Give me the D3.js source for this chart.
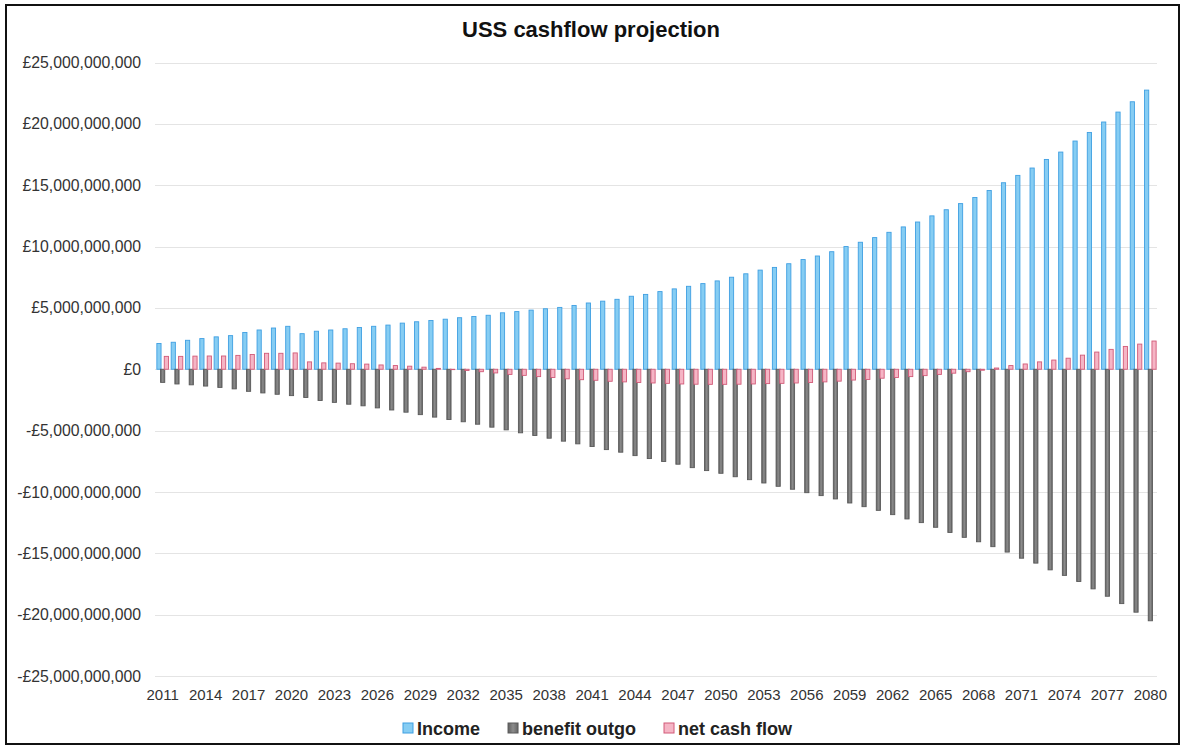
<!DOCTYPE html>
<html>
<head>
<meta charset="utf-8">
<style>
  body { margin: 0; background: #fff; }
  text { font-family: "Liberation Sans", Arial, sans-serif; }
</style>
</head>
<body>
<svg width="1182" height="749"></svg>
<script src="https://d3js.org/d3.v7.min.js"></script>
<script>
// values in £ billions, one per year 2011..2080
const years = d3.range(2011, 2081);
const income = [
  2.1, 2.2, 2.36, 2.5, 2.64, 2.74, 3.0, 3.2, 3.36, 3.5,
  2.9, 3.1, 3.2, 3.3, 3.4, 3.5, 3.6, 3.76, 3.87, 3.97,
  4.08, 4.2, 4.3, 4.4, 4.6, 4.7, 4.82, 4.93, 5.04, 5.2,
  5.4, 5.55, 5.7, 5.95, 6.1, 6.33, 6.55, 6.76, 6.98, 7.2,
  7.5, 7.78, 8.08, 8.3, 8.6, 8.94, 9.23, 9.58, 10.0, 10.35,
  10.73, 11.16, 11.6, 12.0, 12.5, 13.0, 13.5, 14.0, 14.57, 15.2,
  15.8, 16.4, 17.1, 17.7, 18.6, 19.3, 20.15, 20.96, 21.8, 22.75
];
const outgo = [
  -1.07, -1.2, -1.27, -1.37, -1.48, -1.6, -1.8, -1.93, -2.04, -2.15,
  -2.3, -2.55, -2.7, -2.85, -2.98, -3.15, -3.32, -3.5, -3.7, -3.9,
  -4.1, -4.28, -4.48, -4.72, -4.94, -5.18, -5.4, -5.62, -5.86, -6.08,
  -6.3, -6.55, -6.76, -7.04, -7.28, -7.52, -7.74, -8.02, -8.26, -8.48,
  -8.76, -9.0, -9.27, -9.54, -9.78, -10.06, -10.3, -10.57, -10.9, -11.2,
  -11.5, -11.85, -12.2, -12.5, -12.88, -13.3, -13.7, -14.06, -14.46, -14.9,
  -15.4, -15.8, -16.35, -16.8, -17.3, -17.9, -18.5, -19.1, -19.8, -20.5
];
const net = [
  1.05, 1.05, 1.07, 1.08, 1.08, 1.13, 1.2, 1.3, 1.3, 1.33,
  0.6, 0.52, 0.5, 0.45, 0.42, 0.35, 0.3, 0.25, 0.17, 0.07,
  -0.03, -0.1, -0.2, -0.3, -0.42, -0.5, -0.6, -0.67, -0.78, -0.85,
  -0.9, -0.98, -1.03, -1.08, -1.12, -1.15, -1.2, -1.22, -1.23, -1.23,
  -1.22, -1.2, -1.17, -1.15, -1.12, -1.08, -1.03, -0.97, -0.88, -0.83,
  -0.73, -0.67, -0.6, -0.52, -0.42, -0.32, -0.2, -0.08, 0.1, 0.3,
  0.43, 0.6, 0.75, 0.9, 1.15, 1.4, 1.62, 1.86, 2.05, 2.3
];
const yTicks = [25, 20, 15, 10, 5, 0, -5, -10, -15, -20, -25];
const xTickYears = years.filter((d, i) => i % 3 === 0);
const seriesNames = ["Income", "benefit outgo", "net cash flow"];

const series = [
  {name: seriesNames[0], values: income, fill: "#86cdf3", stroke: "#3f9fe2", dx: -3.7},
  {name: seriesNames[1], values: outgo, fill: "url(#greyGrad)", stroke: "#5a5a5a", dx: 0},
  {name: seriesNames[2], values: net, fill: "#f5b5c5", stroke: "#d25a78", dx: 3.7}
];

const svg = d3.select("svg");
const width = +svg.attr("width"), height = +svg.attr("height");

const defs = svg.append("defs");
const grad = defs.append("linearGradient").attr("id", "greyGrad")
  .attr("x1", "0").attr("x2", "1").attr("y1", "0").attr("y2", "0");
grad.append("stop").attr("offset", "0%").attr("stop-color", "#5f5f5f");
grad.append("stop").attr("offset", "50%").attr("stop-color", "#8c8c8c");
grad.append("stop").attr("offset", "100%").attr("stop-color", "#656565");

svg.append("rect").attr("width", width).attr("height", height).attr("fill", "#fff");
svg.append("rect")
  .attr("x", 6).attr("y", 5).attr("width", 1173).attr("height", 739)
  .attr("fill", "none").attr("stroke", "#111").attr("stroke-width", 2);

const x = d3.scaleBand().domain(years).range([155.5, 1157.5]).padding(0);
const y = d3.scaleLinear().domain([-25, 25]).range([676, 62.5]);

const money = d3.format(",");
const fmt = v => v === 0 ? "£0" : (v < 0 ? "-£" : "£") + money(Math.abs(v) * 1e9);

// gridlines
svg.append("g")
  .selectAll("line")
  .data(yTicks)
  .join("line")
  .attr("x1", 155).attr("x2", 1157)
  .attr("y1", d => Math.round(y(d)) + 0.5).attr("y2", d => Math.round(y(d)) + 0.5)
  .attr("stroke", "#e4e4e4").attr("stroke-width", 1);

// y axis
const yAxis = svg.append("g")
  .attr("transform", "translate(141,0)")
  .call(d3.axisLeft(y).tickValues(yTicks).tickFormat(fmt).tickSize(0).tickPadding(0));
yAxis.select(".domain").remove();
yAxis.selectAll("text")
  .attr("font-size", "15.8px").attr("fill", "#333")
  .attr("font-family", "Liberation Sans, Arial, sans-serif");

// x axis
const xAxis = svg.append("g")
  .attr("transform", "translate(0,686)")
  .call(d3.axisBottom(x).tickValues(xTickYears).tickSize(0).tickPadding(3));
xAxis.select(".domain").remove();
xAxis.selectAll("text")
  .attr("font-size", "15px").attr("fill", "#333")
  .attr("font-family", "Liberation Sans, Arial, sans-serif");

// bars
const barW = 4.2;
series.forEach(s => {
  svg.append("g")
    .selectAll("rect")
    .data(s.values)
    .join("rect")
    .attr("x", (d, i) => x(years[i]) + x.bandwidth() / 2 + s.dx - barW / 2)
    .attr("y", d => y(Math.max(0, d)))
    .attr("width", barW)
    .attr("height", d => Math.abs(y(d) - y(0)))
    .attr("fill", s.fill)
    .attr("stroke", s.stroke)
    .attr("stroke-width", 0.9);
});

// title
svg.append("text")
  .attr("x", 591).attr("y", 37)
  .attr("text-anchor", "middle")
  .attr("font-size", "22px").attr("font-weight", "bold").attr("fill", "#111")
  .text("USS cashflow projection");

// legend
const legend = svg.append("g");
let lx = 403;
series.forEach(s => {
  legend.append("rect")
    .attr("x", lx).attr("y", 723).attr("width", 10).attr("height", 10)
    .attr("fill", s.fill).attr("stroke", s.stroke).attr("stroke-width", 1);
  const t = legend.append("text")
    .attr("x", lx + 14).attr("y", 734.5)
    .attr("font-size", "18px").attr("font-weight", "bold").attr("fill", "#222")
    .text(s.name);
  lx += 14 + t.node().getComputedTextLength() + 28;
});
</script>
</body>
</html>
